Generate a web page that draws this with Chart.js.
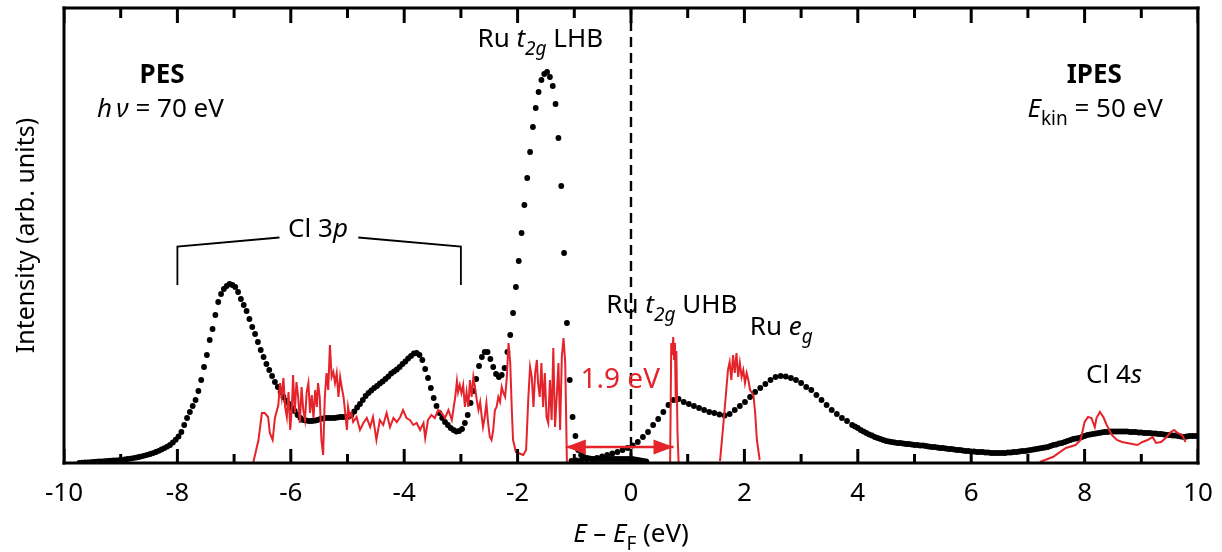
<!DOCTYPE html>
<html>
<head>
<meta charset="utf-8">
<title>PES / IPES spectra</title>
<script src="https://cdn.jsdelivr.net/npm/chart.js@4.4.1/dist/chart.umd.min.js"></script>
<style>
  html, body { margin: 0; padding: 0; background: #fff; }
  #wrap { width: 1222px; height: 552px; }
</style>
</head>
<body>
<div id="wrap"><canvas id="spectra" width="1222" height="552"></canvas></div>
<script>
const FONT = '"Noto Sans", "Open Sans", sans-serif';
const RED = '#e5232a';

// x axis
const xTickValues = [-10, -8, -6, -4, -2, 0, 2, 4, 6, 8, 10];
const xTickLabels = ['-10', '-8', '-6', '-4', '-2', '0', '2', '4', '6', '8', '10'];
const xMinorTicks = [-9, -7, -5, -3, -1, 1, 3, 5, 7, 9];
const yMax = 455;

// PES (black dots), energy grid start/step in eV
const pesStart = -9.73;
const pesStep = 0.05;
const pesCounts = [
  0, 0.3, 0.5, 0.7, 0.9, 1.1, 1.3, 1.5, 1.7, 1.9,
  2.1, 2.3, 2.5, 2.7, 2.9, 3.2, 3.6, 4.0, 4.4, 4.9,
  5.4, 6.0, 6.7, 7.4, 8.2, 9.0, 9.9, 11.0, 12.2, 13.5,
  14.9, 16.4, 18.0, 20.5, 23.3, 26.5, 31, 38, 45, 51,
  57, 63, 72, 83, 96, 108, 123, 134, 148, 161,
  169, 174, 177, 179, 178, 176, 171, 164, 158, 152,
  144, 136, 129, 121, 113, 106, 99, 93, 87, 81,
  76, 71, 66, 62, 59, 55, 52, 48, 45, 43,
  42.5, 42, 42, 42.3, 43, 44, 44.5, 45, 45, 45,
  45, 45.5, 46, 46, 46, 46.5, 48, 51.5, 55.5, 59,
  63, 67, 70, 72.5, 75, 77, 79.5, 81.5, 84, 86.5,
  89.5, 91.5, 93.5, 96, 99, 101.5, 104.5, 107, 109.5, 110,
  108, 103, 94, 85, 75, 65, 57, 50, 45, 41,
  38, 35, 33, 31.5, 32, 34, 40, 48, 60, 72,
  84, 97, 106, 111, 111, 104, 96, 89, 86, 88,
  95, 111, 128, 150, 176, 202, 230, 258, 285, 311,
  336, 355, 371, 383, 389, 391, 386, 377, 359, 325,
  277, 210, 140, 83, 46, 27, 13, 8, 6, 5,
  4.5, 4, 4, 4, 4, 4, 4, 4, 4, 4,
  4, 4, 4, 4, 4, 4, 3.5, 3, 2.5, 2, 1.5
];

// IPES (black dots): coarse grid below 3.95 eV, finer grid above
const ipesLowStart = -1.05;
const ipesLowStep = 0.09;
const ipesLowCounts = [
  2, 2.5, 3, 3.5, 4, 5, 6.5, 8, 9.5, 11,
  13, 15, 17.5, 21, 26, 31, 38, 44, 51, 58,
  63, 64, 61, 59, 57, 55, 53, 51, 50, 48.5,
  47.5, 49, 53, 57, 61, 66, 71, 75, 79, 83,
  86, 87, 86.5, 85, 83, 80, 76, 73, 68, 63,
  58, 53, 49, 45, 42, 38
];
const ipesHighStart = 3.95;
const ipesHighStep = 0.05;
const ipesHighCounts = [
  36.5, 35, 33, 31.5, 30, 28.5, 27.5, 26, 25, 24, 23,
  22, 21.5, 21, 20.5, 20, 20, 19.5, 19, 19, 18.5,
  18, 18, 17.5, 17.5, 17, 16.5, 16, 16, 15.5, 15,
  15, 14.5, 14, 14, 13.5, 13, 13, 12.5, 12, 12,
  11.5, 11.5, 11, 11, 11, 10.5, 10.5, 10, 10, 10,
  10, 10, 10, 10.5, 10.5, 11, 11, 11.5, 12, 12,
  12.5, 13, 13.5, 14, 14.5, 15, 15.5, 16, 17, 18,
  18.5, 19.5, 20, 21, 22, 23, 24, 24.5, 25, 26,
  27, 28, 28.5, 29, 29.5, 30, 30.5, 31, 31, 31.5,
  31.5, 31.5, 31.5, 31.5, 31.5, 31.5, 31, 31, 31, 30.5,
  30.5, 30, 30, 30, 29.5, 29.5, 29, 29, 28.5, 28,
  28, 27.5, 27.5, 27, 26.5, 26, 26.5, 27, 27, 27,
  27
];

// red traces (energy, intensity)
const redPesE = [
  -6.66, -6.57, -6.51, -6.46, -6.40, -6.37, -6.32, -6.28, -6.22, -6.19,
  -6.16, -6.13, -6.10, -6.07, -6.04, -6.01, -5.98, -5.96, -5.93, -5.90,
  -5.87, -5.84, -5.81, -5.78, -5.75, -5.72, -5.69, -5.66, -5.63, -5.60,
  -5.57, -5.54, -5.52, -5.49, -5.46, -5.43, -5.40, -5.37, -5.34, -5.31,
  -5.28, -5.25, -5.22, -5.19, -5.16, -5.13, -5.10, -5.07, -5.04, -5.01,
  -4.99, -4.96, -4.93, -4.90, -4.84, -4.78, -4.72, -4.66, -4.60, -4.55,
  -4.49, -4.43, -4.37, -4.31, -4.25, -4.19, -4.13, -4.07, -4.02, -3.96,
  -3.90, -3.84, -3.78, -3.72, -3.66, -3.63, -3.58, -3.52, -3.46, -3.40,
  -3.34, -3.28, -3.22, -3.16, -3.10, -3.07, -3.05, -3.02, -2.99, -2.96,
  -2.93, -2.90, -2.87, -2.84, -2.81, -2.78, -2.75, -2.72, -2.69, -2.66,
  -2.63, -2.61, -2.58, -2.55, -2.52, -2.49, -2.46, -2.43, -2.40, -2.37,
  -2.34, -2.31, -2.28, -2.25, -2.22, -2.19, -2.16, -2.13, -2.10, -2.08,
  -2.03, -1.99, -1.90, -1.85, -1.81, -1.78, -1.75, -1.72, -1.69, -1.66,
  -1.64, -1.61, -1.58, -1.55, -1.52, -1.49, -1.46, -1.43, -1.40, -1.37,
  -1.34, -1.31, -1.28, -1.25, -1.22, -1.19, -1.16, -1.13
];
const redPesI = [
  1, 23, 50, 50, 46, 30, 23, 45, 58, 80,
  66, 85, 56, 46, 71, 33, 56, 88, 50, 81,
  66, 40, 76, 53, 43, 71, 80, 50, 68, 45,
  73, 56, 80, 66, 23, 8, 66, 90, 73, 118,
  86, 91, 80, 90, 66, 86, 75, 66, 50, 33,
  56, 46, 50, 41, 46, 33, 40, 45, 36, 46,
  23, 43, 38, 50, 36, 45, 41, 46, 53, 45,
  43, 38, 40, 33, 40, 25, 43, 48, 45, 53,
  50, 45, 53, 43, 66, 82, 71, 78, 70, 78,
  56, 71, 56, 83, 66, 86, 75, 63, 53, 61,
  45, 36, 46, 60, 40, 26, 23, 33, 53, 56,
  66, 61, 76, 70, 66, 86, 120, 100, 50, 23,
  11, 10, 8, 13, 66, 96, 86, 56, 90, 103,
  80, 66, 100, 56, 90, 46, 40, 83, 43, 115,
  36, 66, 100, 33, 106, 125, 100, 0
];
const redUhbE = [0.69, 0.71, 0.73, 0.745, 0.76, 0.775, 0.79, 0.80, 0.82, 0.84];
const redUhbI = [0, 120, 108, 126, 104, 120, 60, 112, 30, 0];
const redEgE = [1.57, 1.62, 1.67, 1.71, 1.74, 1.77, 1.80, 1.83, 1.86, 1.89, 1.92, 1.95, 1.98, 2.01, 2.04, 2.07, 2.10, 2.16, 2.19, 2.22, 2.27];
const redEgI = [2, 33, 66, 93, 101, 83, 108, 90, 110, 86, 100, 86, 93, 80, 90, 83, 73, 68, 50, 23, 3];
const redCl4sE = [
  7.21, 7.44, 7.67, 7.84, 7.93, 8.00, 8.06, 8.12, 8.18, 8.21,
  8.27, 8.33, 8.39, 8.48, 8.57, 8.66, 8.75, 8.84, 8.93, 9.02,
  9.11, 9.20, 9.26, 9.35, 9.43, 9.52, 9.58, 9.64, 9.72, 9.78
];
const redCl4sI = [
  1, 6, 15, 18, 23, 41, 46, 45, 36, 45,
  51, 46, 38, 28, 23, 21, 20, 19, 18, 21,
  23, 26, 20, 21, 25, 31, 33, 30, 28, 21
];

// gap between LHB and UHB edges
const gapStart = -1.15;
const gapWidth = 1.9;
const gapLevel = 16;

// Cl 3p bracket (energy, height)
const bracketLeft = [[-8, 178], [-8, 216.5], [-6.2, 225.5]];
const bracketRight = [[-4.81, 225.5], [-3, 216.5], [-3, 178]];

const toGrid = (start, step, counts) =>
  counts.map((c, i) => ({ x: +(start + i * step).toFixed(3), y: c }));
const toPairs = (es, is) => es.map((e, i) => ({ x: e, y: is[i] }));
const fromList = list => list.map(([e, v]) => ({ x: e, y: v }));

const pesPoints = toGrid(pesStart, pesStep, pesCounts);
const ipesPoints = toGrid(ipesLowStart, ipesLowStep, ipesLowCounts)
  .concat(toGrid(ipesHighStart, ipesHighStep, ipesHighCounts));

// inward tick marks on bottom and top edges, one segment per tick
const MAJOR_LEN = 14, MINOR_LEN = 9;
const tickSegments = [];
xTickValues.concat(xMinorTicks).forEach(v => {
  const len = xMinorTicks.includes(v) ? MINOR_LEN : MAJOR_LEN;
  tickSegments.push({ x: v, y: 0 }, { x: v, y: len }, { x: v, y: null });
  tickSegments.push({ x: v, y: yMax }, { x: v, y: yMax - len - 1 }, { x: v, y: null });
});

const dots = { showLine: false, pointRadius: 2.9, pointHoverRadius: 2.9, pointBackgroundColor: '#000', pointBorderWidth: 0, order: 2 };
const redLine = { showLine: true, pointRadius: 0, borderColor: RED, borderWidth: 2, order: 1 };
const blackLine = { showLine: true, pointRadius: 0, borderColor: '#000', borderWidth: 1.8, order: 1 };

// text labels placed in data coordinates (baseline)
const TXT = 26;
const notes = [
  { x: -8.27, y: 380, align: 'center', bold: true, parts: [{ t: 'PES' }] },
  { x: -9.42, y: 346, align: 'left', parts: [{ t: 'h', it: true }, { t: '\u2009\u03BD', it: true }, { t: ' = 70 eV' }] },
  { x: 8.17, y: 380, align: 'center', bold: true, parts: [{ t: 'IPES' }] },
  { x: 9.38, y: 346, align: 'right', parts: [{ t: 'E', it: true }, { t: 'kin', sub: true }, { t: ' = 50 eV' }] },
  { x: -1.6, y: 416, align: 'center', parts: [{ t: 'Ru ' }, { t: 't', it: true }, { t: '2g', it: true, sub: true }, { t: ' LHB' }] },
  { x: 0.72, y: 150, align: 'center', parts: [{ t: 'Ru ' }, { t: 't', it: true }, { t: '2g', it: true, sub: true }, { t: ' UHB' }] },
  { x: 2.65, y: 128, align: 'center', parts: [{ t: 'Ru ' }, { t: 'e', it: true }, { t: 'g', it: true, sub: true }] },
  { x: 8.52, y: 80, align: 'center', parts: [{ t: 'Cl 4' }, { t: 's', it: true }] },
  { x: -5.52, y: 226, align: 'center', parts: [{ t: 'Cl 3' }, { t: 'p', it: true }] },
  { x: -0.19, y: 75, align: 'center', size: 28, color: RED, parts: [{ t: '1.9 eV' }] }
];

function drawRich(ctx, parts, px, py, align, size, bold, color) {
  const fontFor = p => `${p.it ? 'italic ' : ''}${bold ? 'bold ' : ''}${p.sub ? Math.round(size * 0.72) : size}px ${FONT}`;
  let w = 0;
  parts.forEach(p => { ctx.font = fontFor(p); w += ctx.measureText(p.t).width; });
  let cx = align === 'center' ? px - w / 2 : align === 'right' ? px - w : px;
  ctx.textAlign = 'left';
  ctx.textBaseline = 'alphabetic';
  ctx.fillStyle = color || '#000';
  parts.forEach(p => {
    ctx.font = fontFor(p);
    ctx.fillText(p.t, cx, py + (p.sub ? size * 0.3 : 0));
    cx += ctx.measureText(p.t).width;
  });
}

const decorations = {
  id: 'decorations',
  afterDraw(chart) {
    const { ctx, chartArea: a } = chart;
    const sx = chart.scales.x, sy = chart.scales.y;
    const L = Math.round(a.left), R = Math.round(a.right), T = Math.round(a.top), B = Math.round(a.bottom);
    ctx.save();

    // frame, 3 px
    ctx.fillStyle = '#000';
    ctx.fillRect(L - 1.5, T - 1.5, R - L + 3, 3);
    ctx.fillRect(L - 1.5, B - 1.5, R - L + 3, 3);
    ctx.fillRect(L - 1.5, T - 1.5, 3, B - T + 3);
    ctx.fillRect(R - 1.5, T - 1.5, 3, B - T + 3);

    // arrow heads on the gap marker
    const yl = sy.getPixelForValue(gapLevel);
    const x0 = sx.getPixelForValue(gapStart);
    const x1 = sx.getPixelForValue(gapStart + gapWidth);
    ctx.fillStyle = RED;
    [[x0, 1], [x1, -1]].forEach(([tip, dir]) => {
      ctx.beginPath();
      ctx.moveTo(tip, yl);
      ctx.lineTo(tip + dir * 20, yl - 7.5);
      ctx.lineTo(tip + dir * 20, yl + 7.5);
      ctx.closePath();
      ctx.fill();
    });

    notes.forEach(l => drawRich(ctx, l.parts, sx.getPixelForValue(l.x), sy.getPixelForValue(l.y),
      l.align, l.size || TXT, l.bold, l.color));

    // axis titles
    drawRich(ctx, [{ t: 'E', it: true }, { t: ' \u2013 ' }, { t: 'E', it: true }, { t: 'F', sub: true }, { t: ' (eV)' }],
      (L + R) / 2, B + 79, 'center', TXT, false);
    ctx.save();
    ctx.translate(L - 30, (T + B) / 2);
    ctx.rotate(-Math.PI / 2);
    drawRich(ctx, [{ t: 'Intensity (arb. units)' }], 0, 0, 'center', 25, false);
    ctx.restore();

    ctx.restore();
  }
};

new Chart(document.getElementById('spectra'), {
  type: 'scatter',
  data: {
    datasets: [
      { label: 'ticks', data: tickSegments, showLine: true, spanGaps: false, pointRadius: 0, borderColor: '#000', borderWidth: 3, borderCapStyle: 'butt', order: 0 },
      { label: 'E_F', data: [{ x: 0, y: 0 }, { x: 0, y: yMax }], showLine: true, pointRadius: 0, borderColor: '#000', borderWidth: 2.4, borderDash: [10, 6], order: 3 },
      { label: 'PES', data: pesPoints, ...dots },
      { label: 'IPES', data: ipesPoints, ...dots },
      { label: 'PES red', data: toPairs(redPesE, redPesI), ...redLine },
      { label: 'UHB red', data: toPairs(redUhbE, redUhbI), ...redLine },
      { label: 'eg red', data: toPairs(redEgE, redEgI), ...redLine },
      { label: 'Cl 4s red', data: toPairs(redCl4sE, redCl4sI), ...redLine },
      { label: 'gap', data: [{ x: gapStart, y: gapLevel }, { x: gapStart + gapWidth, y: gapLevel }], showLine: true, pointRadius: 0, borderColor: RED, borderWidth: 2.6, order: 0 },
      { label: 'Cl 3p left', data: fromList(bracketLeft), ...blackLine },
      { label: 'Cl 3p right', data: fromList(bracketRight), ...blackLine }
    ]
  },
  options: {
    responsive: false,
    devicePixelRatio: 1,
    animation: false,
    layout: { padding: { left: 64, top: 8, right: 24, bottom: 0 } },
    plugins: { legend: { display: false }, tooltip: { enabled: false } },
    scales: {
      x: {
        type: 'linear',
        min: -10,
        max: 10,
        afterBuildTicks: s => { s.ticks = xTickValues.map(v => ({ value: v })); },
        afterFit: s => { s.height = 89; s.paddingLeft = 0; s.paddingRight = 0; },
        ticks: {
          callback: v => xTickLabels[xTickValues.indexOf(v)],
          font: { family: FONT, size: TXT },
          color: '#000',
          padding: 15,
          maxRotation: 0,
          autoSkip: false
        },
        grid: { display: false, drawTicks: false },
        border: { display: false }
      },
      y: { display: false, min: 0, max: yMax }
    }
  },
  plugins: [decorations]
});
</script>
</body>
</html>
